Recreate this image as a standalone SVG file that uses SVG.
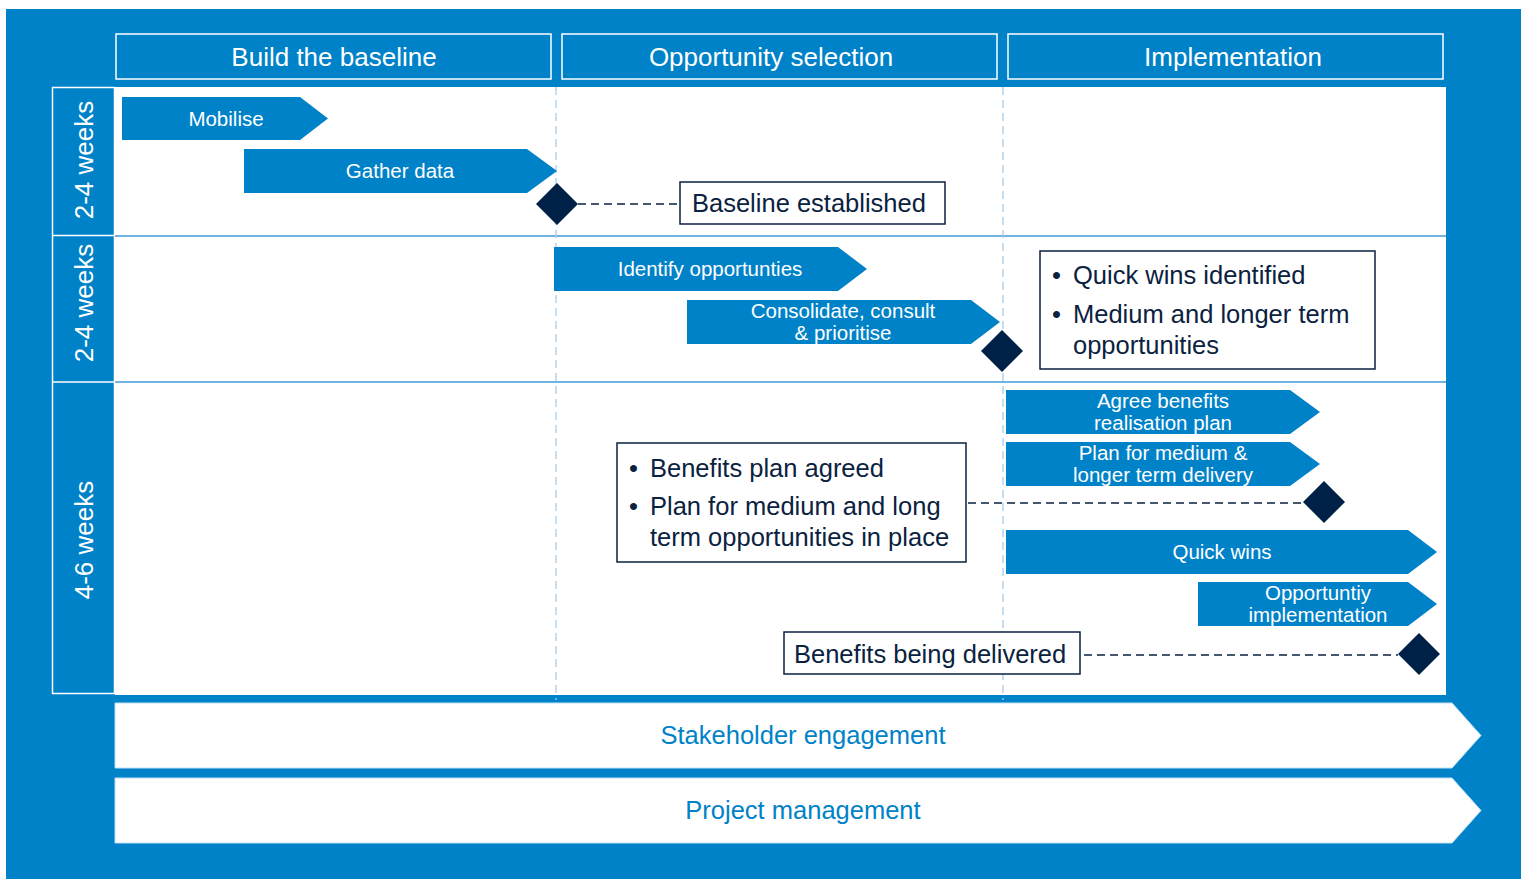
<svg xmlns="http://www.w3.org/2000/svg" width="1523" height="879" viewBox="0 0 1523 879">
<defs>
<style>
text{font-family:"Liberation Sans",Arial,sans-serif}
.bar{fill:#0082C8}
.bt{fill:#fff;font-size:20.5px;text-anchor:middle}
.hd{fill:none;stroke:#fff;stroke-width:1.5}
.ht{fill:#fff;font-size:26px;text-anchor:middle}
.box{fill:#fff;stroke:#0a2240;stroke-width:1.5}
.bx{fill:#0a2240;font-size:25.5px}
.dia{fill:#002147}
.dash{stroke:#0a2240;stroke-width:1.3;stroke-dasharray:8,5;fill:none}
.vd{stroke:#a8cdea;stroke-width:1.3;stroke-dasharray:8,5}
.wk{fill:#fff;font-size:26px;text-anchor:middle}
.lane{fill:#fff;stroke:#bfe0f5;stroke-width:1}
.lt{fill:#0082C8;font-size:25.5px;text-anchor:middle}
</style>
</defs>
<rect x="0" y="0" width="1523" height="879" fill="#fff"/>
<rect x="6" y="9" width="1515" height="870" fill="#0082C8"/>
<g id="headers">
<rect class="hd" x="116" y="34" width="435" height="45"/>
<text class="ht" x="334" y="66">Build the baseline</text>
<rect class="hd" x="562" y="34" width="435" height="45"/>
<text class="ht" x="771" y="66">Opportunity selection</text>
<rect class="hd" x="1008" y="34" width="435" height="45"/>
<text class="ht" x="1233" y="66">Implementation</text>
</g>
<rect x="115" y="87" width="1331" height="608" fill="#fff"/>
<g id="rows" stroke="#fff" stroke-width="1.5" fill="none">
<rect x="52.5" y="87.5" width="62" height="606"/>
<line x1="52" y1="235.5" x2="115" y2="235.5"/>
<line x1="52" y1="382" x2="115" y2="382"/>
</g>
<line x1="115" y1="236" x2="1446" y2="236" stroke="#3f9ad6" stroke-width="1.3"/>
<line x1="115" y1="382" x2="1446" y2="382" stroke="#3f9ad6" stroke-width="1.3"/>
<line class="vd" x1="556" y1="87" x2="556" y2="700"/>
<line class="vd" x1="1003" y1="87" x2="1003" y2="700"/>
<g id="weeks">
<text class="wk" transform="translate(93,160) rotate(-90)">2-4 weeks</text>
<text class="wk" transform="translate(93,303) rotate(-90)">2-4 weeks</text>
<text class="wk" transform="translate(93,540) rotate(-90)">4-6 weeks</text>
</g>
<g id="connectors">
<line class="dash" x1="578" y1="204" x2="680" y2="204"/>
<line class="dash" x1="968" y1="503" x2="1303" y2="503"/>
<line class="dash" x1="1084" y1="655" x2="1398" y2="655"/>
</g>
<g id="mobilise"><polygon class="bar" points="122,97 300,97 328,118.5 300,140 122,140"/><text class="bt" x="226" y="126">Mobilise</text></g>
<g id="gather"><polygon class="bar" points="244,149 527,149 557,171 527,193 244,193"/><text class="bt" x="400" y="178">Gather data</text></g>
<g id="m1"><polygon class="dia" points="557,183 578,204 557,225 536,204"/></g>
<g id="baseline"><rect class="box" x="680" y="182" width="265" height="42"/><text class="bx" x="692" y="212">Baseline established</text></g>
<g id="identify"><polygon class="bar" points="554,247 838,247 867,269 838,291 554,291"/><text class="bt" x="710" y="276">Identify opportunties</text></g>
<g id="consolidate"><polygon class="bar" points="687,300 971,300 1000,322 971,344 687,344"/><text class="bt" x="843" y="318">Consolidate, consult</text><text class="bt" x="843" y="340">&amp; prioritise</text></g>
<g id="m2"><polygon class="dia" points="1002,330 1023,351 1002,372 981,351"/></g>
<g id="quickbox"><rect class="box" x="1040" y="251" width="335" height="118"/>
<text class="bx" x="1052" y="284">•</text><text class="bx" x="1073" y="284">Quick wins identified</text>
<text class="bx" x="1052" y="323">•</text><text class="bx" x="1073" y="323">Medium and longer term</text>
<text class="bx" x="1073" y="354">opportunities</text></g>
<g id="agree"><polygon class="bar" points="1006,390 1290,390 1320,412 1290,434 1006,434"/><text class="bt" x="1163" y="408">Agree benefits</text><text class="bt" x="1163" y="430">realisation plan</text></g>
<g id="planmed"><polygon class="bar" points="1006,442 1290,442 1320,464 1290,486 1006,486"/><text class="bt" x="1163" y="460">Plan for medium &amp;</text><text class="bt" x="1163" y="482">longer term delivery</text></g>
<g id="m3"><polygon class="dia" points="1324,481 1345,502 1324,523 1303,502"/></g>
<g id="benefitsbox"><rect class="box" x="617" y="443" width="349" height="119"/>
<text class="bx" x="629" y="477">•</text><text class="bx" x="650" y="477">Benefits plan agreed</text>
<text class="bx" x="629" y="515">•</text><text class="bx" x="650" y="515">Plan for medium and long</text>
<text class="bx" x="650" y="546">term opportunities in place</text></g>
<g id="quickwins"><polygon class="bar" points="1006,530 1408,530 1437,552 1408,574 1006,574"/><text class="bt" x="1222" y="559">Quick wins</text></g>
<g id="oppimpl"><polygon class="bar" points="1198,582 1408,582 1437,604 1408,626 1198,626"/><text class="bt" x="1318" y="600">Opportuntiy</text><text class="bt" x="1318" y="622">implementation</text></g>
<g id="delivered"><rect class="box" x="784" y="632" width="296" height="42"/><text class="bx" x="794" y="663">Benefits being delivered</text></g>
<g id="m4"><polygon class="dia" points="1419,633 1440,654 1419,675 1398,654"/></g>
<g id="stakeholder"><polygon class="lane" points="115,703 1452,703 1481,735.5 1452,768 115,768"/><text class="lt" x="803" y="744">Stakeholder engagement</text></g>
<g id="pm"><polygon class="lane" points="115,778 1452,778 1481,810.5 1452,843 115,843"/><text class="lt" x="803" y="819">Project management</text></g>
</svg>
